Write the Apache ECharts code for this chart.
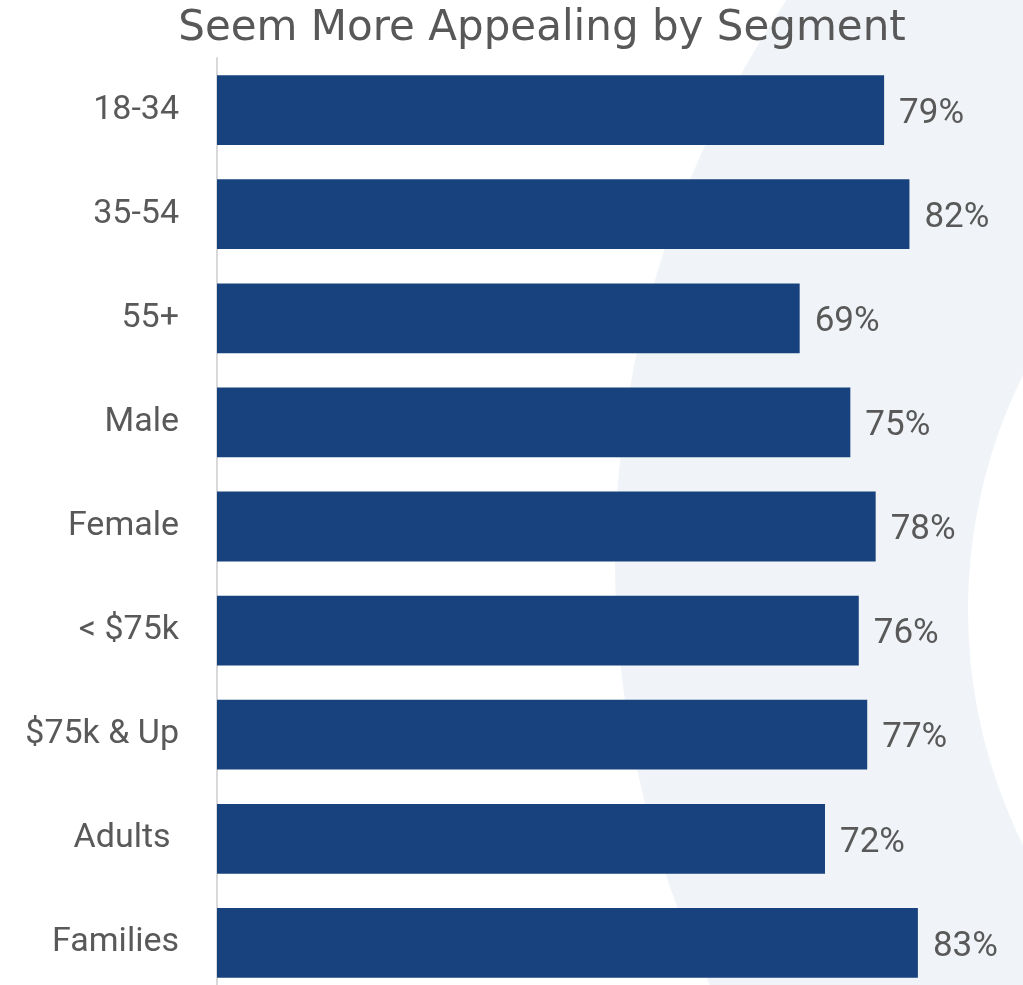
<!DOCTYPE html>
<html>
<head>
<meta charset="utf-8">
<script src="https://cdn.jsdelivr.net/npm/echarts@6/dist/echarts.min.js"></script>
<style>
  html, body { margin: 0; padding: 0; background: #ffffff; }
  #chart { width: 1023px; height: 985px; }
</style>
</head>
<body>
<div id="chart"></div>
<script>
// Segments, top to bottom
const categories = ['18-34', '35-54', '55+', 'Male', 'Female', '< $75k', '$75k & Up', 'Adults ', 'Families'];
// Share who say it seems more appealing (%)
const appealValues = [79, 82, 69, 75, 78, 76, 77, 72, 83];

const chartTitle = 'Seem More Appealing by Segment';

const labelColor = '#595959';
const barColor = '#17427d';
const bandColor = '#f0f3f7';

const chart = echarts.init(document.getElementById('chart'), null, { renderer: 'canvas' });

chart.setOption({
  backgroundColor: '#ffffff',
  animation: false,
  title: {
    text: chartTitle,
    left: 537,
    textAlign: 'center',
    top: 3,
    textStyle: {
      fontFamily: 'DejaVu Sans',
      fontSize: 42,
      fontWeight: 'normal',
      color: '#585858'
    }
  },
  // soft decorative crescent behind the right side of the plot
  graphic: {
    elements: [
      {
        type: 'circle',
        z: -10,
        silent: true,
        shape: { cx: 1615, cy: 560, r: 1000 },
        style: { fill: bandColor }
      },
      {
        type: 'circle',
        z: -9,
        silent: true,
        shape: { cx: 1498, cy: 610, r: 530 },
        style: { fill: '#ffffff' }
      }
    ]
  },
  grid: {
    left: 217,
    top: 58,
    width: 760,
    height: 937,
    containLabel: false,
    outerBoundsMode: 'none'
  },
  xAxis: {
    type: 'value',
    min: 0,
    max: 90,
    show: false
  },
  yAxis: {
    type: 'category',
    data: categories,
    inverse: true,
    axisLine: { show: true, lineStyle: { color: '#d9d9d9', width: 2 } },
    axisTick: { show: false },
    splitLine: { show: false },
    axisLabel: {
      margin: 38,
      fontFamily: 'Roboto',
      fontSize: 34,
      color: labelColor
    }
  },
  series: [
    {
      type: 'bar',
      data: appealValues,
      barWidth: '67%',
      itemStyle: { color: barColor },
      label: {
        show: true,
        position: 'right',
        distance: 15,
        offset: [0, 4],
        formatter: '{c}%',
        fontFamily: 'Roboto',
        fontSize: 35,
        color: labelColor
      }
    }
  ]
});
</script>
</body>
</html>
